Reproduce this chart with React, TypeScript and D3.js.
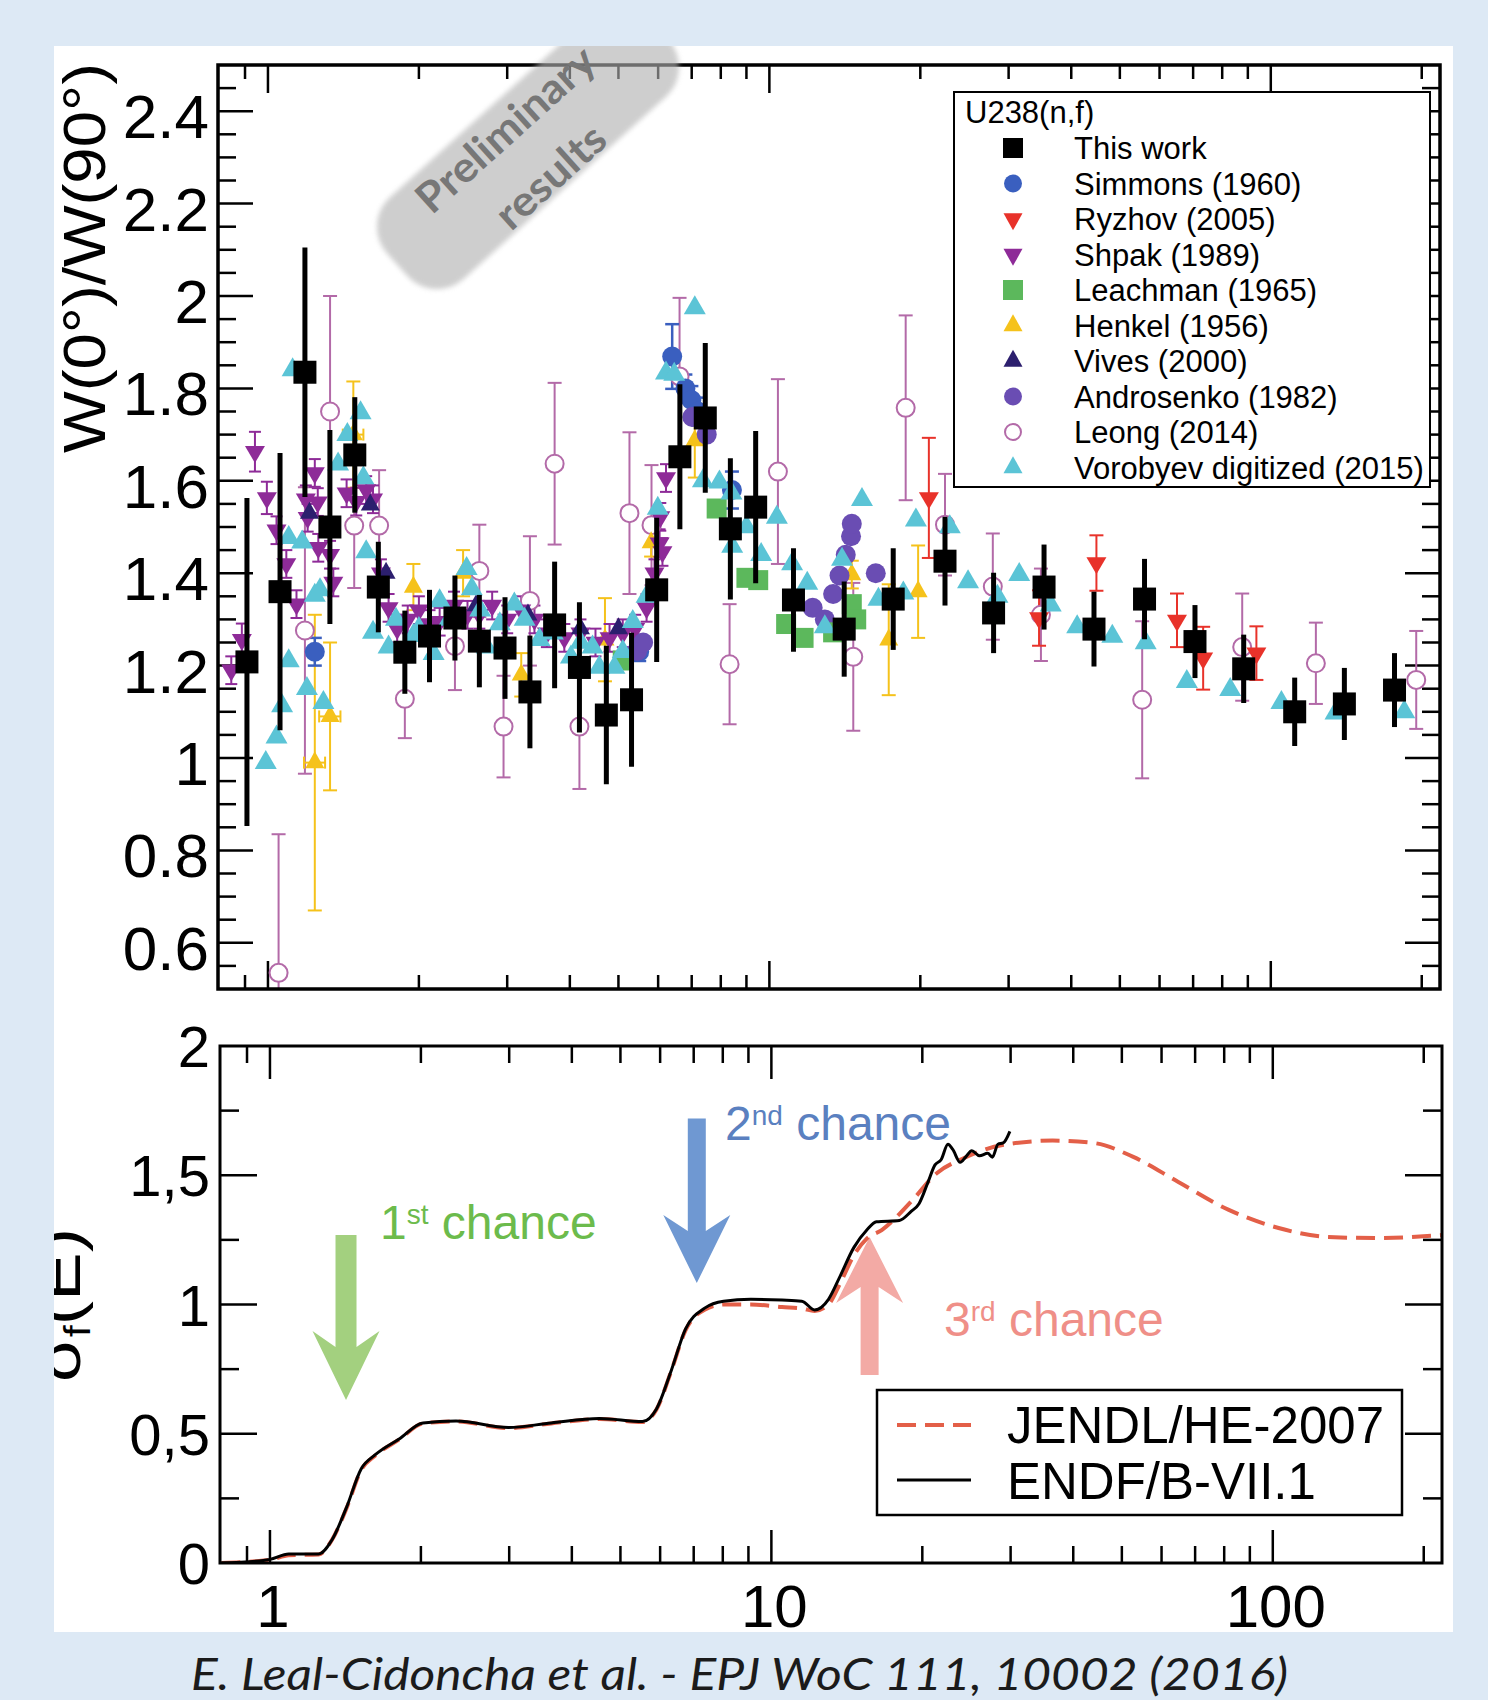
import React from 'react';
import * as d3 from 'd3';

// ---- top panel: W(0)/W(90) vs neutron energy (MeV) ----
// This work: [E, ratio, error]
const thisWork: number[][] = [
  [0.908, 1.208, 0.355], [1.057, 1.36, 0.3], [1.185, 1.835, 0.27], [1.329, 1.5, 0.21],
  [1.49, 1.656, 0.125], [1.66, 1.37, 0.098], [1.875, 1.229, 0.09], [2.1, 1.264, 0.1],
  [2.36, 1.303, 0.092], [2.64, 1.253, 0.1], [2.97, 1.238, 0.11], [3.33, 1.143, 0.122],
  [3.73, 1.288, 0.137], [4.18, 1.196, 0.141], [4.73, 1.093, 0.15], [5.31, 1.126, 0.145],
  [5.96, 1.364, 0.156], [6.63, 1.652, 0.157], [7.45, 1.736, 0.162], [8.36, 1.496, 0.153],
  [9.39, 1.543, 0.165], [11.17, 1.342, 0.112], [14.1, 1.279, 0.103], [17.66, 1.344, 0.11],
  [22.4, 1.426, 0.096], [28.0, 1.314, 0.087], [35.3, 1.37, 0.092], [44.4, 1.279, 0.081],
  [56.0, 1.344, 0.087], [70.6, 1.252, 0.079], [88.3, 1.193, 0.074], [111.6, 1.1, 0.074],
  [140.2, 1.117, 0.078], [176.5, 1.147, 0.08],
];
const simmons: number[][] = [
  [1.24, 1.23, 0.03], [5.5, 1.23, 0.02], [6.4, 1.869, 0.07], [6.8, 1.8, 0.03],
  [6.99, 1.775, 0.03], [7.2, 1.75, 0.03], [8.42, 1.58, 0.04],
];
const ryzhov: number[][] = [
  [20.8, 1.563, 0.13], [34.5, 1.303, 0.06], [44.9, 1.422, 0.06],
  [65.0, 1.298, 0.058], [73.3, 1.216, 0.068], [93.6, 1.227, 0.058],
];
const shpak: number[][] = [
  [0.845, 1.19, 0.03], [0.887, 1.256, 0.035], [0.942, 1.663, 0.043], [0.995, 1.563, 0.035],
  [1.04, 1.493, 0.03], [1.088, 1.42, 0.03], [1.14, 1.333, 0.03], [1.19, 1.56, 0.03],
  [1.2, 1.52, 0.03], [1.24, 1.617, 0.03], [1.257, 1.554, 0.03], [1.26, 1.455, 0.03],
  [1.33, 1.44, 0.03], [1.35, 1.38, 0.03], [1.435, 1.573, 0.03], [1.5, 1.555, 0.03],
  [1.57, 1.58, 0.03], [1.62, 1.56, 0.03], [1.68, 1.4, 0.03], [1.74, 1.325, 0.03],
  [1.81, 1.28, 0.03], [1.9, 1.3, 0.03], [2.0, 1.32, 0.03], [2.1, 1.29, 0.03],
  [2.2, 1.295, 0.03], [2.35, 1.33, 0.03], [2.5, 1.31, 0.03], [2.64, 1.31, 0.03],
  [2.8, 1.33, 0.03], [3.0, 1.3, 0.03], [3.2, 1.32, 0.03], [3.4, 1.3, 0.03],
  [3.6, 1.27, 0.03], [3.9, 1.26, 0.03], [4.2, 1.27, 0.03], [4.5, 1.25, 0.03],
  [4.8, 1.26, 0.03], [5.1, 1.27, 0.03], [5.4, 1.28, 0.03], [5.69, 1.325, 0.03],
  [5.9, 1.4, 0.03], [6.04, 1.465, 0.03], [6.06, 1.522, 0.03], [6.12, 1.446, 0.03],
  [6.22, 1.606, 0.03],
];
const leachman: number[][] = [
  [5.1, 1.211], [7.85, 1.54], [9.0, 1.39], [9.5, 1.385], [10.8, 1.29],
  [11.7, 1.26], [13.4, 1.272], [14.6, 1.333], [14.9, 1.3],
];
// Henkel: [E, ratio, y error, E half-width]
const henkel: number[][] = [
  [1.24, 0.99, 0.32, 0.06], [1.33, 1.09, 0.16, 0.065], [1.48, 1.7, 0.115, 0.07],
  [1.95, 1.37, 0.05, 0], [2.45, 1.4, 0.05, 0], [3.2, 1.18, 0.047, 0], [4.7, 1.256, 0.09, 0],
  [5.81, 1.466, 0.03, 0], [7.1, 1.687, 0.08, 0], [14.6, 1.397, 0.03, 0],
  [17.3, 1.256, 0.12, 0], [19.8, 1.36, 0.1, 0],
];
const vives: number[][] = [
  [1.21, 1.53], [1.6, 1.548], [1.72, 1.4], [2.6, 1.33], [3.3, 1.31], [4.2, 1.28], [5.0, 1.28],
];
const androsenko: number[][] = [
  [5.45, 1.232], [5.6, 1.25], [7.02, 1.738], [7.5, 1.7], [12.2, 1.325], [12.9, 1.3],
  [13.4, 1.355], [13.8, 1.395], [14.2, 1.44], [14.55, 1.48], [14.6, 1.507], [16.3, 1.4],
];
const leong: number[][] = [
  [1.05, 0.535, 0.3], [1.185, 1.276, 0.31], [1.33, 1.75, 0.25], [1.486, 1.503, 0.135],
  [1.666, 1.503, 0.12], [1.875, 1.128, 0.085], [2.36, 1.242, 0.095], [2.64, 1.405, 0.1],
  [2.95, 1.068, 0.11], [3.33, 1.34, 0.14], [3.73, 1.637, 0.175], [4.18, 1.068, 0.135],
  [5.26, 1.53, 0.175], [5.82, 1.504, 0.13], [6.62, 1.826, 0.17], [8.33, 1.203, 0.13],
  [10.4, 1.62, 0.2], [14.7, 1.219, 0.16], [18.7, 1.758, 0.2], [22.4, 1.505, 0.11],
  [27.9, 1.371, 0.115], [34.8, 1.31, 0.1], [55.4, 1.126, 0.17], [87.7, 1.24, 0.116],
  [123, 1.205, 0.088], [195, 1.169, 0.106],
];
const vorobyev: number[][] = [
  [0.99, 0.99], [1.04, 1.045], [1.067, 1.113], [1.1, 1.21], [1.1, 1.477], [1.12, 1.84],
  [1.17, 1.467], [1.196, 1.15], [1.24, 1.352], [1.27, 1.364], [1.29, 1.12], [1.38, 1.636],
  [1.44, 1.7], [1.53, 1.747], [1.55, 1.606], [1.57, 1.446], [1.62, 1.272], [1.74, 1.24],
  [1.8, 1.3], [1.95, 1.265], [2.0, 1.28], [2.14, 1.226], [2.2, 1.34], [2.3, 1.3],
  [2.49, 1.41], [2.55, 1.366], [2.65, 1.32], [2.73, 1.24], [2.9, 1.29], [3.1, 1.333],
  [3.25, 1.3], [3.48, 1.256], [3.7, 1.27], [4.02, 1.218], [4.2, 1.25], [4.44, 1.24],
  [4.58, 1.196], [4.91, 1.196], [5.1, 1.23], [5.34, 1.295], [5.69, 1.35], [5.99, 1.54],
  [6.22, 1.833], [6.46, 1.83], [7.1, 1.974], [7.37, 1.6], [7.95, 1.597], [8.4, 1.573],
  [8.43, 1.458], [9.0, 1.5], [9.63, 1.44], [10.35, 1.521], [11.1, 1.42], [11.9, 1.378],
  [12.9, 1.284], [13.96, 1.43], [15.3, 1.559], [16.5, 1.343], [18.5, 1.357], [19.6, 1.515],
  [22.9, 1.5], [24.9, 1.381], [28.5, 1.35], [31.5, 1.397], [36.4, 1.331], [41.1, 1.284],
  [48.3, 1.263], [56.3, 1.249], [68.0, 1.165], [83.0, 1.148], [105, 1.12], [134.6, 1.097],
  [184.6, 1.1],
];

// ---- bottom panel: fission cross section (b) ----
const jendl: number[][] = [
  [0.8, 0.0], [1.0, 0.012], [1.09, 0.03], [1.25, 0.033], [1.33, 0.09], [1.42, 0.21],
  [1.52, 0.36], [1.62, 0.415], [1.81, 0.478], [2.02, 0.54], [2.35, 0.548], [2.99, 0.522],
  [3.64, 0.54], [4.54, 0.557], [5.53, 0.545], [5.9, 0.594], [6.32, 0.745], [6.74, 0.9],
  [7.36, 0.98], [8.03, 1.0], [9.1, 1.0], [10.5, 0.99], [11.5, 0.985], [12.2, 0.975],
  [13.0, 1.0], [13.7, 1.08], [14.6, 1.19], [15.5, 1.255], [16.6, 1.288], [19.1, 1.403],
  [21.4, 1.509], [24.0, 1.563], [28.9, 1.617], [36.4, 1.634], [43.9, 1.625], [52.7, 1.571],
  [64.8, 1.474], [81.5, 1.367], [102.7, 1.296], [129, 1.261], [162.7, 1.257], [219, 1.269],
];
const endf: number[][] = [
  [0.8, 0.0], [0.97, 0.01], [1.0, 0.014], [1.09, 0.035], [1.25, 0.035], [1.33, 0.09],
  [1.42, 0.213], [1.52, 0.364], [1.62, 0.418], [1.81, 0.48], [2.02, 0.542], [2.35, 0.549],
  [2.99, 0.524], [3.64, 0.542], [4.54, 0.559], [5.53, 0.547], [5.9, 0.596], [6.32, 0.747],
  [6.74, 0.905], [7.36, 0.986], [8.03, 1.013], [9.1, 1.02], [10.5, 1.017], [11.5, 1.013],
  [12.2, 0.979], [13.0, 1.02], [13.7, 1.108], [14.6, 1.22], [15.5, 1.288], [16.2, 1.32],
  [18.0, 1.325], [19.0, 1.36], [19.7, 1.39], [20.5, 1.47], [21.2, 1.54], [21.8, 1.56],
  [22.5, 1.62], [23.0, 1.6], [23.8, 1.55], [24.4, 1.57], [25.1, 1.595], [26.0, 1.575],
  [27.0, 1.585], [27.6, 1.57], [28.3, 1.62], [29.0, 1.625], [29.9, 1.67],
];

const topYLabels = ['0.6', '0.8', '1', '1.2', '1.4', '1.6', '1.8', '2', '2.2', '2.4'];
const botYValues = [0, 0.5, 1, 1.5, 2];
const botYLabels = ['0', '0,5', '1', '1,5', '2'];
const botXValues = [1, 10, 100];
const botXLabels = ['1', '10', '100'];

const legendTop = [
  { name: 'This work', shape: 'square', color: '#000000' },
  { name: 'Simmons (1960)', shape: 'circle', color: '#3a5fbf' },
  { name: 'Ryzhov (2005)', shape: 'down', color: '#e8322a' },
  { name: 'Shpak (1989)', shape: 'down', color: '#8e2b98' },
  { name: 'Leachman (1965)', shape: 'square', color: '#5cb85c' },
  { name: 'Henkel (1956)', shape: 'up', color: '#f5c21b' },
  { name: 'Vives (2000)', shape: 'up', color: '#2c1f6e' },
  { name: 'Androsenko (1982)', shape: 'circle', color: '#6a4db3' },
  { name: 'Leong (2014)', shape: 'open', color: '#b36aa8' },
  { name: 'Vorobyev digitized (2015)', shape: 'up', color: '#5bc4d6' },
];

const xDomain: [number, number] = [0.795, 217.5];
const xTop = d3.scaleLog().domain(xDomain).range([218, 1440]);
const yTop = d3.scaleLinear().domain([0.5, 2.5]).range([989, 65]);
const xBot = d3.scaleLog().domain(xDomain).range([220, 1442]);
const yBot = d3.scaleLinear().domain([0, 2]).range([1563, 1046]);

const logTicks: { v: number; major: boolean }[] = [];
[0.1, 1, 10, 100].forEach(d => {
  for (let m = 1; m <= 9; m++) {
    const v = d * m;
    if (v > xDomain[0] * 1.01 && v < xDomain[1] * 0.99) logTicks.push({ v, major: m === 1 });
  }
});

const tri = (x: number, y: number, w: number, h: number, up: boolean) =>
  up
    ? `M${x},${y - (h * 2) / 3}L${x + w / 2},${y + h / 3}L${x - w / 2},${y + h / 3}Z`
    : `M${x},${y + (h * 2) / 3}L${x + w / 2},${y - h / 3}L${x - w / 2},${y - h / 3}Z`;

const arrowPath = (x: number, y0: number, y1: number, sw: number, hw: number, hl: number, notch: number) => {
  const dir = y1 > y0 ? 1 : -1;
  const wingY = y1 - dir * hl;
  const joinY = wingY + dir * notch;
  return `M${x - sw / 2},${y0}L${x + sw / 2},${y0}L${x + sw / 2},${joinY}L${x + hw / 2},${wingY}L${x},${y1}L${x - hw / 2},${wingY}L${x - sw / 2},${joinY}Z`;
};

function ErrBars({ data, color, width, cap }: { data: number[][]; color: string; width: number; cap: number }) {
  return (
    <g stroke={color} strokeWidth={width} fill="none">
      {data.map((d, i) => {
        const x = xTop(d[0]);
        const y1 = yTop(d[1] + d[2]);
        const y2 = yTop(d[1] - d[2]);
        return (
          <g key={i}>
            <line x1={x} x2={x} y1={y1} y2={y2} />
            {cap > 0 && <line x1={x - cap / 2} x2={x + cap / 2} y1={y1} y2={y1} />}
            {cap > 0 && <line x1={x - cap / 2} x2={x + cap / 2} y1={y2} y2={y2} />}
          </g>
        );
      })}
    </g>
  );
}

function LegendMarker({ shape, color, x, y }: { shape: string; color: string; x: number; y: number }) {
  if (shape === 'square') return <rect x={x - 10} y={y - 10} width={20} height={20} fill={color} />;
  if (shape === 'circle') return <circle cx={x} cy={y} r={9} fill={color} />;
  if (shape === 'open') return <circle cx={x} cy={y} r={8} fill="white" stroke={color} strokeWidth={2} />;
  return <path d={tri(x, y, 19, 17, shape === 'up')} fill={color} />;
}

export default function App() {
  const line = d3
    .line<number[]>()
    .x(d => xBot(d[0]))
    .y(d => yBot(d[1]))
    .curve(d3.curveMonotoneX);

  const font = '"Liberation Sans", Arial, Helvetica, sans-serif';

  const topYTicks = d3.range(11, 50).map(i => ({ v: i * 0.05, major: i % 4 === 0 }));
  const botYTicks = d3.range(1, 8).map(i => ({ v: i * 0.25, major: i % 2 === 0 }));

  return (
    <svg width={1488} height={1700} style={{ position: 'absolute', left: 0, top: 0 }} fontFamily={font}>
      <defs>
        <clipPath id="panel"><rect x={54} y={46} width={1399} height={1586} /></clipPath>
        <clipPath id="topPlot"><rect x={218} y={65} width={1222} height={924} /></clipPath>
        <clipPath id="botPlot"><rect x={220} y={1046} width={1222} height={517} /></clipPath>
        <filter id="soft" x="-10%" y="-10%" width="120%" height="120%">
          <feGaussianBlur stdDeviation={2.5} />
        </filter>
      </defs>
      <rect width={1488} height={1700} fill="#dde9f5" />
      <rect x={54} y={46} width={1399} height={1586} fill="#ffffff" />

      {/* ===== top panel ===== */}
      <g clipPath="url(#panel)">
        <text
          transform="translate(105,453) rotate(-90)"
          fontSize={60}
          textLength={390}
          lengthAdjust="spacingAndGlyphs"
          fill="#000"
        >
          W(0°)/W(90°)
        </text>
      </g>
      {topYTicks.filter(t => t.major).map((t, i) => (
        <text key={i} x={209} y={yTop(t.v) + 27} fontSize={62} textAnchor="end" fill="#000">
          {topYLabels[i]}
        </text>
      ))}

      <g stroke="#000" strokeWidth={2.5}>
        {topYTicks.map((t, i) => {
          const len = t.major ? 35 : 18;
          const y = yTop(t.v);
          return (
            <g key={i}>
              <line x1={218} x2={218 + len} y1={y} y2={y} />
              <line x1={1440} x2={1440 - len} y1={y} y2={y} />
            </g>
          );
        })}
        {logTicks.map((t, i) => {
          const len = t.major ? 28 : 14;
          const x = xTop(t.v);
          return (
            <g key={i}>
              <line x1={x} x2={x} y1={65} y2={65 + len} />
              <line x1={x} x2={x} y1={989} y2={989 - len} />
            </g>
          );
        })}
      </g>

      <g clipPath="url(#topPlot)">
        <ErrBars data={leong} color="#b36aa8" width={2} cap={14} />
        <ErrBars data={henkel} color="#f5c21b" width={2} cap={14} />
        <g stroke="#f5c21b" strokeWidth={2}>
          {henkel.filter(d => d[3] > 0).map((d, i) => (
            <g key={i}>
              <line x1={xTop(d[0] - d[3])} x2={xTop(d[0] + d[3])} y1={yTop(d[1])} y2={yTop(d[1])} />
              <line x1={xTop(d[0] - d[3])} x2={xTop(d[0] - d[3])} y1={yTop(d[1]) - 6} y2={yTop(d[1]) + 6} />
              <line x1={xTop(d[0] + d[3])} x2={xTop(d[0] + d[3])} y1={yTop(d[1]) - 6} y2={yTop(d[1]) + 6} />
            </g>
          ))}
        </g>
        <ErrBars data={shpak} color="#8e2b98" width={2} cap={12} />
        <ErrBars data={simmons} color="#3a5fbf" width={2.5} cap={14} />
        <ErrBars data={ryzhov} color="#e8322a" width={2} cap={14} />

        {leong.map((d, i) => (
          <circle key={i} cx={xTop(d[0])} cy={yTop(d[1])} r={9} fill="white" stroke="#b36aa8" strokeWidth={2} />
        ))}
        {henkel.map((d, i) => (
          <path key={i} d={tri(xTop(d[0]), yTop(d[1]), 19, 17, true)} fill="#f5c21b" />
        ))}
        {shpak.map((d, i) => (
          <path key={i} d={tri(xTop(d[0]), yTop(d[1]), 20, 17, false)} fill="#8e2b98" />
        ))}
        {vives.map((d, i) => (
          <path key={i} d={tri(xTop(d[0]), yTop(d[1]), 19, 17, true)} fill="#2c1f6e" />
        ))}
        {simmons.map((d, i) => (
          <circle key={i} cx={xTop(d[0])} cy={yTop(d[1])} r={10} fill="#3a5fbf" />
        ))}
        {androsenko.map((d, i) => (
          <circle key={i} cx={xTop(d[0])} cy={yTop(d[1])} r={10} fill="#6a4db3" />
        ))}
        {leachman.map((d, i) => (
          <rect key={i} x={xTop(d[0]) - 10} y={yTop(d[1]) - 10} width={20} height={20} fill="#5cb85c" />
        ))}
        {ryzhov.map((d, i) => (
          <path key={i} d={tri(xTop(d[0]), yTop(d[1]), 20, 17, false)} fill="#e8322a" />
        ))}
        {vorobyev.map((d, i) => (
          <path key={i} d={tri(xTop(d[0]), yTop(d[1]), 22, 19, true)} fill="#5bc4d6" />
        ))}

        <g stroke="#000" strokeWidth={5}>
          {thisWork.map((d, i) => (
            <line key={i} x1={xTop(d[0])} x2={xTop(d[0])} y1={yTop(d[1] + d[2])} y2={yTop(d[1] - d[2])} />
          ))}
        </g>
        {thisWork.map((d, i) => (
          <rect key={i} x={xTop(d[0]) - 11.5} y={yTop(d[1]) - 11.5} width={23} height={23} fill="#000" />
        ))}
      </g>

      <rect x={218} y={65} width={1222} height={924} fill="none" stroke="#000" strokeWidth={3.5} />

      {/* legend top */}
      <rect x={954} y={92} width={476} height={395} fill="white" stroke="#000" strokeWidth={2} />
      <text x={965} y={123} fontSize={31} fill="#000">U238(n,f)</text>
      {legendTop.map((e, i) => (
        <g key={e.name}>
          <LegendMarker shape={e.shape} color={e.color} x={1013} y={159 + i * 35.5 - 11} />
          <text x={1074} y={159 + i * 35.5} fontSize={31} fill="#000">{e.name}</text>
        </g>
      ))}

      {/* preliminary badge */}
      <g clipPath="url(#panel)">
        <g transform="translate(528,147) rotate(-42)">
          <rect x={-176} y={-55} width={352} height={110} rx={40} fill="#b1b1b1" opacity={0.62} filter="url(#soft)" />
          <text x={-5} y={-28} dy="0.35em" textAnchor="middle" fontSize={42} fontWeight="bold"
            fontFamily='"Comic Sans MS", Lato, sans-serif' fill="#777777" textLength={225} lengthAdjust="spacingAndGlyphs">
            Preliminary
          </text>
          <text x={-3} y={37} dy="0.35em" textAnchor="middle" fontSize={42} fontWeight="bold"
            fontFamily='"Comic Sans MS", Lato, sans-serif' fill="#777777" textLength={133} lengthAdjust="spacingAndGlyphs">
            results
          </text>
        </g>
      </g>

      {/* ===== bottom panel ===== */}
      <g clipPath="url(#panel)">
        <text transform="translate(80,1382) rotate(-90)" fontSize={62} fill="#000" textLength={154} lengthAdjust="spacingAndGlyphs">
          <tspan>σ</tspan>
          <tspan fontSize={36} dy={10}>f</tspan>
          <tspan dy={-10}>(E)</tspan>
        </text>
      </g>
      {botYValues.map((v, i) => (
        <text key={v} x={210} y={yBot(v) + 21} fontSize={58} textAnchor="end" fill="#000">
          {botYLabels[i]}
        </text>
      ))}
      {botXValues.map((v, i) => (
        <text key={v} x={xBot(v) + 3} y={1627} fontSize={60} textAnchor="middle" fill="#000">
          {botXLabels[i]}
        </text>
      ))}

      <g stroke="#000" strokeWidth={2.5}>
        {botYTicks.map((t, i) => {
          const len = t.major ? 37 : 19;
          const y = yBot(t.v);
          return (
            <g key={i}>
              <line x1={220} x2={220 + len} y1={y} y2={y} />
              <line x1={1442} x2={1442 - len} y1={y} y2={y} />
            </g>
          );
        })}
        {logTicks.map((t, i) => {
          const len = t.major ? 33 : 17;
          const x = xBot(t.v);
          return (
            <g key={i}>
              <line x1={x} x2={x} y1={1046} y2={1046 + len} />
              <line x1={x} x2={x} y1={1563} y2={1563 - len} />
            </g>
          );
        })}
      </g>

      {/* chance arrows */}
      <path d={arrowPath(xBot(1.418), yBot(1.269), yBot(0.631), 21, 67, 69, 16)} fill="#a3d07f" />
      <path d={arrowPath(xBot(7.1), yBot(1.72), yBot(1.083), 18, 67, 68, 16)} fill="#6f98d2" />
      <path d={arrowPath(xBot(15.7), yBot(0.727), yBot(1.261), 18, 67, 66, 16)} fill="#f3aaa5" />

      <g clipPath="url(#botPlot)">
        <path d={line(jendl) || ''} fill="none" stroke="#e35f48" strokeWidth={4} strokeDasharray="19 9" />
        <path d={line(endf) || ''} fill="none" stroke="#000" strokeWidth={3} />
      </g>

      <text x={380} y={1239} fontSize={48} fill="#6cbb4c">
        1<tspan fontSize={28} dy={-15}>st</tspan><tspan dy={15}> chance</tspan>
      </text>
      <text x={725} y={1140} fontSize={48} fill="#5a80c0">
        2<tspan fontSize={28} dy={-15}>nd</tspan><tspan dy={15}> chance</tspan>
      </text>
      <text x={944} y={1336} fontSize={48} fill="#ef8f88">
        3<tspan fontSize={28} dy={-15}>rd</tspan><tspan dy={15}> chance</tspan>
      </text>

      <rect x={220} y={1046} width={1222} height={517} fill="none" stroke="#000" strokeWidth={3} />

      {/* legend bottom */}
      <rect x={877} y={1390} width={525} height={125} fill="white" stroke="#000" strokeWidth={2.5} />
      <line x1={897} x2={971} y1={1425} y2={1425} stroke="#e35f48" strokeWidth={4} strokeDasharray="19 9" />
      <text x={1007} y={1443} fontSize={51} fill="#000">JENDL/HE-2007</text>
      <line x1={897} x2={971} y1={1480} y2={1480} stroke="#000" strokeWidth={3} />
      <text x={1007} y={1499} fontSize={51} fill="#000">ENDF/B-VII.1</text>

      {/* caption */}
      <text x={191} y={1690} fontSize={45} fontStyle="italic" fontFamily="Lato, 'Open Sans', sans-serif"
        fill="#1b1b1b" textLength={1097} lengthAdjust="spacingAndGlyphs">
        E. Leal-Cidoncha et al. - EPJ WoC 111, 10002 (2016)
      </text>
    </svg>
  );
}
